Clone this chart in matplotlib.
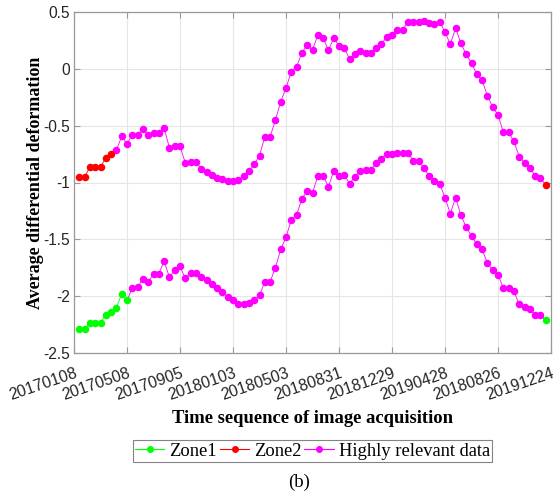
import numpy as np
import matplotlib
matplotlib.use("Agg")
import matplotlib.pyplot as plt
from matplotlib.lines import Line2D

plt.rcParams['axes.unicode_minus'] = False

# ---- data ----
tick_labels = ["20170108", "20170508", "20170905", "20180103", "20180503",
               "20180831", "20181229", "20190428", "20180826", "20191224"]

upper = [-0.949, -0.949, -0.866, -0.866, -0.866, -0.782, -0.749, -0.717, -0.594, -0.661,
         -0.579, -0.579, -0.532, -0.585, -0.567, -0.567, -0.521, -0.694, -0.682, -0.682,
         -0.826, -0.817, -0.817, -0.878, -0.908, -0.931, -0.957, -0.969, -0.987, -0.987,
         -0.981, -0.943, -0.902, -0.840, -0.764, -0.597, -0.597, -0.453, -0.289, -0.169,
         -0.025, 0.018, 0.142, 0.209, 0.165, 0.300, 0.274, 0.163, 0.271, 0.203,
         0.183, 0.086, 0.127, 0.154, 0.139, 0.139, 0.186, 0.221, 0.277, 0.297,
         0.344, 0.344, 0.412, 0.412, 0.412, 0.423, 0.403, 0.397, 0.412, 0.326,
         0.215, 0.359, 0.224, 0.127, 0.051, -0.046, -0.101, -0.237, -0.336, -0.404,
         -0.559, -0.559, -0.638, -0.773, -0.826, -0.872, -0.940, -0.963, -1.022]

lower = [-2.293, -2.293, -2.234, -2.234, -2.234, -2.164, -2.138, -2.100, -1.982, -2.035,
         -1.932, -1.923, -1.847, -1.877, -1.803, -1.803, -1.692, -1.833, -1.771, -1.738,
         -1.844, -1.794, -1.794, -1.829, -1.862, -1.897, -1.930, -1.961, -2.009, -2.038,
         -2.067, -2.067, -2.064, -2.035, -1.994, -1.873, -1.873, -1.750, -1.589, -1.480,
         -1.330, -1.286, -1.142, -1.078, -1.092, -0.943, -0.940, -1.037, -0.899, -0.943,
         -0.937, -1.009, -0.948, -0.899, -0.890, -0.890, -0.831, -0.790, -0.746, -0.749,
         -0.740, -0.740, -0.737, -0.807, -0.807, -0.875, -0.940, -0.986, -1.009, -1.133,
         -1.274, -1.133, -1.289, -1.392, -1.471, -1.542, -1.589, -1.709, -1.774, -1.811,
         -1.930, -1.930, -1.956, -2.073, -2.097, -2.117, -2.164, -2.164, -2.211]

n_zone1 = 10   # leading points of the lower series belonging to Zone1
n_zone2 = 7    # leading points of the upper series belonging to Zone2

x = np.arange(1, len(upper) + 1)
upper = np.array(upper)
lower = np.array(lower)

GREEN = "#00ff00"
RED = "#ff0000"
MAG = "#ff00ff"
ms = 4.4
lw = 0.6

fig = plt.figure(figsize=(5.57, 4.96), dpi=100)
ax = fig.add_axes([74/557, 1 - 353/496, (551-74)/557, (353-12)/496])

# highly relevant data (middle parts)
ax.plot(x[n_zone2-1:-1], upper[n_zone2-1:-1], '-', color=MAG, lw=lw, zorder=2)
ax.plot(x[n_zone2:-1], upper[n_zone2:-1], 'o', color=MAG, ms=ms, zorder=3)
ax.plot(x[n_zone1-1:-1], lower[n_zone1-1:-1], '-', color=MAG, lw=lw, zorder=2)
ax.plot(x[n_zone1:-1], lower[n_zone1:-1], 'o', color=MAG, ms=ms, zorder=3)
ax.plot(x[-2:], upper[-2:], '-', color=MAG, lw=lw, zorder=2)
ax.plot(x[-2:], lower[-2:], '-', color=MAG, lw=lw, zorder=2)

# Zone2 (upper series start and end)
ax.plot(x[:n_zone2], upper[:n_zone2], '-o', color=RED, lw=lw, ms=ms, zorder=4)
ax.plot(x[-1:], upper[-1:], 'o', color=RED, ms=ms, zorder=4)
# Zone1 (lower series start and end)
ax.plot(x[:n_zone1], lower[:n_zone1], '-o', color=GREEN, lw=lw, ms=ms, zorder=4)
ax.plot(x[-1:], lower[-1:], 'o', color=GREEN, ms=ms, zorder=4)

ax.set_xlim(0, 90)
ax.set_ylim(-2.5, 0.5)
ax.set_xticks(np.arange(0, 91, 10))
ax.set_xticklabels(tick_labels, rotation=19, ha='right', rotation_mode='anchor',
                   family='Liberation Sans', fontsize=11.4)
ax.set_yticks([-2.5, -2, -1.5, -1, -0.5, 0, 0.5])
ax.set_yticklabels(["-2.5", "-2", "-1.5", "-1", "-0.5", "0", "0.5"],
                   family='Liberation Sans', fontsize=11.2)
ax.grid(True, color='#e6e6e6', lw=0.8)
ax.set_axisbelow(True)
for s in ax.spines.values():
    s.set_color('#999999')
    s.set_linewidth(0.9)
ax.tick_params(direction='in', top=True, right=True, length=4, color='#999999',
               labelcolor='#262626')
ax.tick_params(axis='x', pad=9)
ax.tick_params(axis='y', pad=3)

ax.set_xlabel("Time sequence of image acquisition", family='Liberation Serif',
              fontweight='bold', fontsize=13.4, labelpad=5)
ax.set_ylabel("Average differential deformation", family='Liberation Serif',
              fontweight='bold', fontsize=13, labelpad=-1)

handles = [Line2D([], [], color=GREEN, marker='o', ms=4, lw=0.8),
           Line2D([], [], color=RED, marker='o', ms=4, lw=0.8),
           Line2D([], [], color=MAG, marker='o', ms=4, lw=0.8)]
leg = fig.legend(handles, ["Zone1", "Zone2", "Highly relevant data"], loc='center',
                 bbox_to_anchor=(312.5/557, 1 - 451/496), ncol=3, frameon=True,
                 fancybox=False, edgecolor='#666666', handlelength=1.6,
                 handletextpad=0.27, columnspacing=0.15, borderpad=0.12,
                 borderaxespad=0,
                 prop={'family': 'Liberation Serif', 'size': 13.3})
leg.get_frame().set_linewidth(0.8)

fig.text(299/557, 1 - 482/496, "(b)", ha='center', va='center',
         family='Liberation Serif', fontsize=13.5)

fig.savefig("out.png", dpi=100)
